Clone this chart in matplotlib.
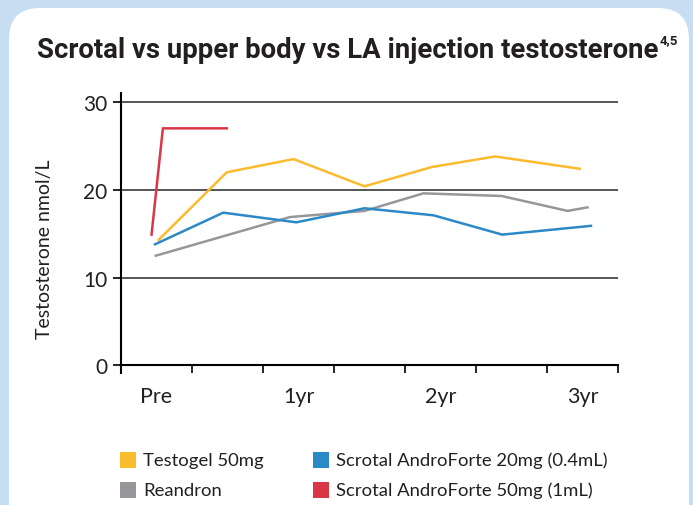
import matplotlib
matplotlib.use("Agg")
import matplotlib.pyplot as plt
from matplotlib.patches import FancyBboxPatch, Rectangle

# x position = half-year steps on the time axis (Pre ~ 0.5, 1yr = 2.5, ...)
testogel_x = [0.53, 1.49, 2.43, 3.43, 4.38, 5.27, 6.46]
testogel_y = [14.3, 22.0, 23.5, 20.4, 22.6, 23.8, 22.4]

andro20_x = [0.48, 1.44, 2.47, 3.43, 4.40, 5.37, 6.62]
andro20_y = [13.8, 17.4, 16.3, 17.9, 17.1, 14.9, 15.9]

reandron_x = [0.49, 2.38, 3.43, 4.26, 5.36, 6.29, 6.57]
reandron_y = [12.5, 16.9, 17.6, 19.6, 19.3, 17.6, 18.0]

andro50_x = [0.43, 0.59, 1.49]
andro50_y = [14.9, 27.0, 27.0]

xlabels = ["Pre", "1yr", "2yr", "3yr"]
xlabel_pos = [0.5, 2.5, 4.5, 6.5]
yticks = [0, 10, 20, 30]

series_names = ["Testogel 50mg", "Reandron",
                "Scrotal AndroForte 20mg (0.4mL)", "Scrotal AndroForte 50mg (1mL)"]
colors = {"yellow": "#fbbb2f", "blue": "#2b89c6", "gray": "#96979b", "red": "#d93745"}

plt.rcParams['font.family'] = ['Lato', 'DejaVu Sans']

fig = plt.figure(figsize=(6.93, 5.06), dpi=100)
fig.patch.set_facecolor("#c7ddf1")

# white rounded card
card = FancyBboxPatch((9 / 693, -0.1), 680 / 693, (506 - 9) / 506 + 0.1,
                      boxstyle="round,pad=0,rounding_size=0.045",
                      transform=fig.transFigure, facecolor="white",
                      edgecolor="none", mutation_aspect=693 / 506, zorder=-5)
fig.patches.append(card)

title = fig.text(37 / 693, 1 - 50 / 506, "Scrotal vs upper body vs LA injection testosterone",
                 fontsize=19.8, fontweight="bold", color="#231f20", va="center", ha="left",
                 family=["Roboto", "DejaVu Sans"])
fig.canvas.draw()
bb = title.get_window_extent()
fig.text((bb.x1 + 1) / 693, 1 - 41 / 506, "4,5", fontsize=9.5, fontweight="bold",
         color="#231f20", va="center", ha="left",
         family=["Roboto", "DejaVu Sans"])

ax = fig.add_axes([121 / 693, 0.2601, 497 / 693, 0.5537])
ax.set_facecolor("none")
ax.set_xlim(0, 7)
ax.set_ylim(-0.9, 31)

for g in [10, 20, 30]:
    ax.axhline(g, color="#555555", lw=1.4, zorder=1)

ax.plot(testogel_x, testogel_y, color=colors["yellow"], lw=1.8, zorder=3)
ax.plot(reandron_x, reandron_y, color=colors["gray"], lw=1.8, zorder=3)
ax.plot(andro20_x, andro20_y, color=colors["blue"], lw=1.8, zorder=3)
ax.plot(andro50_x, andro50_y, color=colors["red"], lw=1.8, zorder=3)

for s in ["top", "right"]:
    ax.spines[s].set_visible(False)
ax.spines["bottom"].set_position(("data", 0))
ax.spines["bottom"].set_linewidth(1.5)
ax.spines["left"].set_linewidth(1.5)

ax.set_xticks(range(8))
ax.set_xticklabels([])
ax.set_xticks(xlabel_pos, minor=True)
ax.set_xticklabels(xlabels, minor=True)
ax.tick_params(axis="x", which="major", direction="out", length=6, width=1.2)
ax.tick_params(axis="x", which="minor", length=0, pad=15, labelsize=15.5, labelcolor="#231f20")

ax.set_yticks(yticks)
ax.tick_params(axis="y", direction="out", length=6, width=1.2, pad=4,
               labelsize=15, labelcolor="#231f20")

fig.text(45 / 693, 1 - 249 / 506, "Testosterone nmol/L", rotation=90,
         fontsize=14, color="#231f20", va="center", ha="center")

# legend
leg_items = [(120, 461, colors["yellow"], series_names[0]),
             (120, 491, colors["gray"], series_names[1]),
             (313, 461, colors["blue"], series_names[2]),
             (313, 491, colors["red"], series_names[3])]
for px, py, c, name in leg_items:
    fig.patches.append(Rectangle((px / 693, 1 - (py + 8) / 506), 16 / 693, 16 / 506,
                                 transform=fig.transFigure, facecolor=c, edgecolor="none"))
    fig.text((px + 23) / 693, 1 - py / 506, name, fontsize=13.3, color="#231f20",
             va="center", ha="left")

fig.savefig("out.png", dpi=100, facecolor=fig.get_facecolor())
